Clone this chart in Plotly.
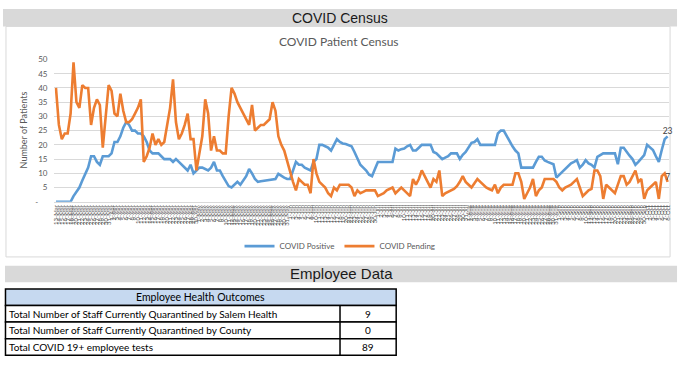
import plotly.graph_objects as go
import pandas as pd

# ---------------- data ----------------
positive = [0, 0, 0, 0, 0, 0, 2, 3.5, 5, 7.5, 10, 12, 16, 16, 14, 13, 16, 16, 16, 17,
            21, 21, 23, 26, 28, 27, 25, 25, 24, 24, 23, 21, 18, 17, 17, 17, 16, 15, 15, 15,
            14, 15, 14, 13, 12, 11, 13, 10, 11, 12, 12, 11.5, 11, 12, 14, 11, 11, 9, 7, 5.5,
            5, 6, 7, 6, 7.5, 9, 11.5, 10, 8, 7, 7.2, 7.4, 7.6, 7.8, 8, 8, 9.8, 9, 8.5, 8,
            8, 11, 14, 13, 13, 12, 11.5, 11, 14, 15, 20, 20, 19.5, 19, 18, 20, 22, 21, 20.5, 20.3,
            20, 19.5, 17.5, 15, 13, 12, 11, 9.5, 9, 11.5, 14, 14, 14, 14, 14, 14, 18.7, 18, 18.5, 18.7,
            19.5, 20, 18, 18, 19, 20, 20, 20, 20, 17.5, 17, 16, 15, 15.5, 16, 17, 17, 17, 15, 16.5,
            17.5, 19, 20.7, 21, 22, 20, 20, 20, 20, 20, 20, 24, 25, 25, 23, 21, 19.5, 18, 17, 12,
            12, 12, 12, 12, 14, 15.8, 15.8, 14.5, 14, 13.5, 13.2, 8.5, 9.5, 10.7, 11.5, 12.5, 13.5, 14, 14.6, 12,
            13, 14.6, 13.5, 13, 12, 15.8, 16.4, 17, 17, 17, 17, 17, 13.2, 19, 19, 17.5, 16.2, 15, 13, 14,
            15.3, 16.4, 20, 19, 18.2, 16, 14, 18.2, 22, 23]
pending = [40, 27, 22, 24, 24, 31, 49, 35, 33, 41, 40, 40, 27, 33, 36, 34, 19, 30, 41, 39,
           31, 30, 38, 32, 28, 28, 29, 31, 33, 36, 14, 16, 19, 24, 20, 22, 20, 21, 27, 33,
           43, 28, 22, 24, 27, 31, 22, 22, 11, 17, 23, 36, 31, 18, 23, 18, 18, 17, 17, 30,
           40, 38, 35, 33, 31, 29, 27, 34, 25, 26, 27, 27, 28, 29, 35, 32, 23, 20, 18, 14,
           10, 7, 4, 8, 7, 6, 6, 3, 15, 10, 7, 6, 5, 3, 2, 5, 4, 6, 6, 6,
           6, 5, 2, 4, 3, 3.5, 4, 4, 4, 4, 2, 2.5, 3, 4, 4.5, 5, 3, 4, 5, 4,
           3, 2, 8, 6, 8, 11, 9, 7, 5, 8, 7, 11, 2, 3, 3.5, 4, 4.5, 5.5, 7, 9,
           7, 6, 5, 6.5, 8, 7, 6, 5, 4.5, 4, 6, 3, 5, 6, 6, 6, 6, 10, 10, 7,
           1, 3, 5, 8, 2, 4, 5, 8, 8, 8, 8, 7, 5, 4, 5, 5.5, 6, 7, 8, 5,
           2, 3, 4, 4.5, 11, 11, 9, 1, 6, 5, 4, 3, 6, 9, 9, 6, 7, 9, 11, 7,
           8, 1, 4, 5, 6, 7, 1, 9, 10, 7]
dates = pd.date_range("2020-03-13", periods=len(positive), freq="D")
date_labels = [f"{d.day}-{d.strftime('%b')}" for d in dates]

y_tick_vals = [0, 5, 10, 15, 20, 25, 30, 35, 40, 45, 50]
y_tick_text = ["-\u2007\u2007", "5", "10", "15", "20", "25", "30", "35", "40", "45", "50"]

series_names = ["COVID Positive", "COVID Pending"]
series_colors = ["#5b9bd5", "#ed7d31"]

table_header = "Employee Health Outcomes"
row_labels = ["Total Number of Staff Currently Quarantined by Salem Health",
              "Total Number of Staff Currently Quarantined by County",
              "Total COVID 19+ employee tests"]
row_values = [9, 0, 89]

# ---------------- helpers (pixel -> paper) ----------------
W, H = 682, 366
def X(px):
    return px / W
def Y(py):
    return 1 - py / H

idx = list(range(len(positive)))
fig = go.Figure()
for name, vals, col in zip(series_names, [positive, pending], series_colors):
    fig.add_trace(go.Scatter(x=idx, y=vals, mode="lines", name=name,
                             line=dict(color=col, width=2.6, shape="linear"),
                             hoverinfo="skip", cliponaxis=False))
# last-point data labels
for vals in [positive, pending]:
    fig.add_trace(go.Scatter(x=[idx[-1]], y=[vals[-1]], mode="text",
                             text=[f"{vals[-1]:g}"], textposition="top center",
                             textfont=dict(family="Lato", size=8.5, color="#404040"),
                             showlegend=False, hoverinfo="skip", cliponaxis=False))

shapes = []
# header bars
shapes.append(dict(type="rect", xref="paper", yref="paper", x0=X(0), x1=X(678), y0=Y(22), y1=Y(4),
                   fillcolor="#d9d9d9", line=dict(width=0), layer="below"))
shapes.append(dict(type="rect", xref="paper", yref="paper", x0=X(3), x1=X(671), y0=Y(259), y1=Y(22),
                   fillcolor="rgba(0,0,0,0)", line=dict(color="#d9d9d9", width=1), layer="below"))
shapes.append(dict(type="rect", xref="paper", yref="paper", x0=X(2), x1=X(678), y0=Y(285), y1=Y(268),
                   fillcolor="#d9d9d9", line=dict(width=0), layer="below"))

# table
t_left, t_right, t_col = 2.5, 395.5, 339
t_top, row_h = 292, 17
t_head_bot = t_top + row_h
t_bottom = t_head_bot + row_h * len(row_labels)
shapes.append(dict(type="rect", xref="paper", yref="paper", x0=X(t_left), x1=X(t_right),
                   y0=Y(t_head_bot), y1=Y(t_top), fillcolor="#c6d9f0",
                   line=dict(color="#000000", width=1.5)))
for r in range(len(row_labels)):
    y0 = t_head_bot + r * row_h
    shapes.append(dict(type="rect", xref="paper", yref="paper", x0=X(t_left), x1=X(t_right),
                       y0=Y(y0 + row_h), y1=Y(y0), fillcolor="#ffffff",
                       line=dict(color="#000000", width=1.5)))
shapes.append(dict(type="line", xref="paper", yref="paper", x0=X(t_col), x1=X(t_col),
                   y0=Y(t_bottom), y1=Y(t_head_bot), line=dict(color="#000000", width=1.5)))

annotations = [
    dict(text="COVID Census", x=X(339), y=Y(13), xref="paper", yref="paper", showarrow=False,
         font=dict(family="Liberation Sans", size=14, color="#1a1a1a"), xanchor="center", yanchor="middle"),
    dict(text="COVID Patient Census", x=X(338), y=Y(38), xref="paper", yref="paper", showarrow=False,
         font=dict(family="Lato", size=12, color="#595959"), xanchor="center", yanchor="middle"),
    dict(text="Number of Patients", x=X(21), y=Y(128), xref="paper", yref="paper", showarrow=False,
         textangle=-90, font=dict(family="Lato", size=9, color="#595959"), xanchor="center", yanchor="middle"),
    dict(text="Employee Data", x=X(340), y=Y(276.5), xref="paper", yref="paper", showarrow=False,
         font=dict(family="Liberation Sans", size=15, color="#1a1a1a"), xanchor="center", yanchor="middle"),
    dict(text=table_header, x=X((t_left + t_right) / 2), y=Y(t_top + row_h / 2), xref="paper", yref="paper",
         showarrow=False, font=dict(family="Lato", size=10.5, color="#000000"), xanchor="center", yanchor="middle"),
]
for r, (lab, val) in enumerate(zip(row_labels, row_values)):
    yc = t_head_bot + r * row_h + row_h / 2
    annotations.append(dict(text=lab, x=X(t_left + 2), y=Y(yc), xref="paper", yref="paper", showarrow=False,
                            font=dict(family="Lato", size=10, color="#000000"), xanchor="left", yanchor="middle"))
    annotations.append(dict(text=str(val), x=X((t_col + t_right) / 2), y=Y(yc), xref="paper", yref="paper",
                            showarrow=False, font=dict(family="Lato", size=10, color="#000000"),
                            xanchor="center", yanchor="middle"))

fig.update_layout(
    width=W, height=H, autosize=False,
    margin=dict(l=0, r=0, t=0, b=0),
    paper_bgcolor="#ffffff", plot_bgcolor="#ffffff",
    font=dict(family="Lato", color="#595959"),
    shapes=shapes, annotations=annotations,
    legend=dict(orientation="h", x=X(339), xanchor="center", y=Y(233), yanchor="top",
                font=dict(family="Lato", size=8, color="#595959"), itemwidth=30,
                bgcolor="rgba(0,0,0,0)"),
    xaxis=dict(domain=[X(51.8), X(670)], range=[-0.5, len(idx) - 0.5],
               tickmode="array", tickvals=idx, ticktext=date_labels, tickangle=-90,
               tickfont=dict(family="Lato", size=6, color="#595959"),
               showgrid=False, zeroline=False, showline=True, linecolor="#d9d9d9", linewidth=1,
               ticks="", fixedrange=True),
    yaxis=dict(domain=[Y(202.3), Y(56)], range=[0, 50], tickmode="array",
               tickvals=y_tick_vals, ticktext=y_tick_text,
               tickfont=dict(family="Lato", size=8, color="#595959"),
               showgrid=True, gridcolor="#d9d9d9", gridwidth=1, zeroline=False,
               showline=False, ticks="", ticklabelstandoff=6, fixedrange=True),
    showlegend=True,
)

fig.write_html("out.html", config={"displayModeBar": False},
               post_script="document.body.style.margin='0';")
